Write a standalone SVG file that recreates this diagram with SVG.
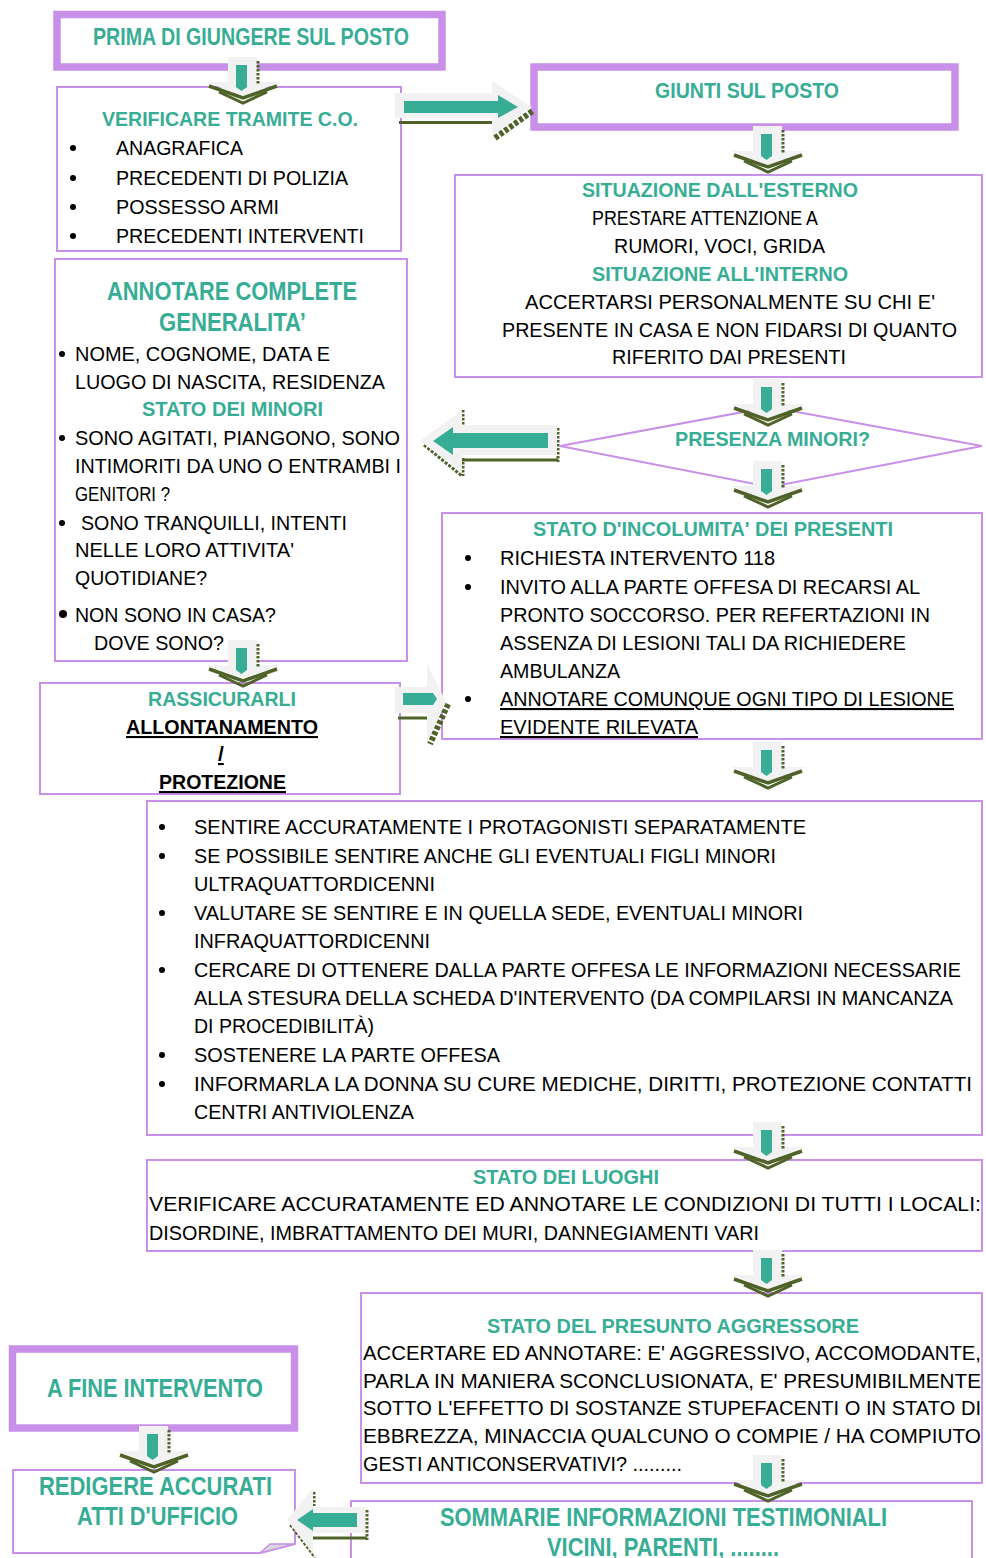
<svg xmlns="http://www.w3.org/2000/svg" xmlns:xlink="http://www.w3.org/1999/xlink" width="986" height="1558" viewBox="0 0 986 1558">
<style>
.t{font-family:"Liberation Sans",Arial,sans-serif;font-size:21px;fill:#000}
.h{font-family:"Liberation Sans",Arial,sans-serif;font-size:21px;font-weight:bold;fill:#38AD95}
.b{font-weight:bold}
.u{text-decoration:underline}
.box{fill:#fff;stroke:#C890E8;stroke-width:2}
.thick{fill:#fff;stroke:#C890E8;stroke-width:7.5}
.gray{fill:#F2F2F2}
.teal{fill:#38AD95}
.ol{stroke:#4F6228;fill:none}
.dot{fill:#000}
</style>
<defs>
<g id="down">
<rect class="gray" x="-15" y="0" width="29" height="27"/>
<polygon class="gray" points="-37,25 38,25 0,39"/>
<polyline class="ol" stroke-width="3.5" points="-34,29 0,41 34,29"/>
<polyline class="ol" stroke-width="3" points="-24,35 0,46 24,35"/>
<path class="teal" d="M-7,8 h11 v22 l-5.5,4 l-5.5,-4 z"/>
<line class="ol" x1="15" y1="4" x2="15" y2="27" stroke-width="3" stroke-dasharray="2.5 1.5"/>
</g>
</defs>

<g id="prima">
<rect class="thick" x="57" y="14.5" width="385" height="52.5"/>
<text class="h" x="93" y="45" style="font-size:23px" textLength="316" lengthAdjust="spacingAndGlyphs">PRIMA DI GIUNGERE SUL POSTO</text>
</g>

<g id="verificare">
<rect class="box" x="57" y="87" width="344" height="164"/>
<text class="h" x="102" y="126" textLength="256" lengthAdjust="spacingAndGlyphs">VERIFICARE TRAMITE C.O.</text>
<circle class="dot" cx="73" cy="148" r="3"/>
<circle class="dot" cx="73" cy="178" r="3"/>
<circle class="dot" cx="73" cy="207" r="3"/>
<circle class="dot" cx="73" cy="236" r="3"/>
<text class="t" x="116" y="155" textLength="127" lengthAdjust="spacingAndGlyphs">ANAGRAFICA</text>
<text class="t" x="116" y="185" textLength="232" lengthAdjust="spacingAndGlyphs">PRECEDENTI DI POLIZIA</text>
<text class="t" x="116" y="214" textLength="163" lengthAdjust="spacingAndGlyphs">POSSESSO ARMI</text>
<text class="t" x="116" y="243" textLength="248" lengthAdjust="spacingAndGlyphs">PRECEDENTI INTERVENTI</text>
</g>

<g id="giunti">
<rect class="thick" x="534" y="67" width="421" height="60"/>
<text class="h" x="655" y="98" style="font-size:22px" textLength="184" lengthAdjust="spacingAndGlyphs">GIUNTI SUL POSTO</text>
</g>

<g id="situazione">
<rect class="box" x="455" y="175" width="527" height="202"/>
<text class="h" x="582" y="197" textLength="276" lengthAdjust="spacingAndGlyphs">SITUAZIONE DALL'ESTERNO</text>
<text class="t" x="592" y="225" textLength="226" lengthAdjust="spacingAndGlyphs">PRESTARE ATTENZIONE A</text>
<text class="t" x="614" y="253" textLength="211" lengthAdjust="spacingAndGlyphs">RUMORI, VOCI, GRIDA</text>
<text class="h" x="592" y="281" textLength="256" lengthAdjust="spacingAndGlyphs">SITUAZIONE ALL'INTERNO</text>
<text class="t" x="525" y="309" textLength="410" lengthAdjust="spacingAndGlyphs">ACCERTARSI  PERSONALMENTE SU CHI E'</text>
<text class="t" x="502" y="337" textLength="455" lengthAdjust="spacingAndGlyphs">PRESENTE IN CASA E NON FIDARSI DI QUANTO</text>
<text class="t" x="612" y="364" textLength="234" lengthAdjust="spacingAndGlyphs">RIFERITO DAI PRESENTI</text>
</g>

<g id="presenza">
<polygon points="560,446 770,407 982,446 770,487" fill="#fff" stroke="#C890E8" stroke-width="2"/>
<text class="h" x="675" y="446" textLength="195" lengthAdjust="spacingAndGlyphs">PRESENZA MINORI?</text>
</g>

<g id="annotare">
<rect class="box" x="55" y="259" width="352" height="402"/>
<text class="h" x="107" y="300" style="font-size:25px" textLength="250" lengthAdjust="spacingAndGlyphs">ANNOTARE COMPLETE</text>
<text class="h" x="159" y="331" style="font-size:25px" textLength="147" lengthAdjust="spacingAndGlyphs">GENERALITA’</text>
<circle class="dot" cx="62" cy="354" r="3"/>
<text class="t" x="75" y="361" textLength="255" lengthAdjust="spacingAndGlyphs">NOME, COGNOME, DATA E</text>
<text class="t" x="75" y="389" textLength="310" lengthAdjust="spacingAndGlyphs">LUOGO DI NASCITA, RESIDENZA</text>
<text class="h" x="142" y="416" textLength="181" lengthAdjust="spacingAndGlyphs">STATO DEI MINORI</text>
<circle class="dot" cx="62" cy="438" r="3"/>
<text class="t" x="75" y="445" textLength="325" lengthAdjust="spacingAndGlyphs">SONO AGITATI, PIANGONO, SONO</text>
<text class="t" x="75" y="473" textLength="326" lengthAdjust="spacingAndGlyphs">INTIMORITI DA UNO O ENTRAMBI I</text>
<text class="t" x="75" y="501" textLength="95" lengthAdjust="spacingAndGlyphs">GENITORI ?</text>
<circle class="dot" cx="62" cy="523" r="3"/>
<text class="t" x="81" y="530" textLength="266" lengthAdjust="spacingAndGlyphs">SONO TRANQUILLI, INTENTI</text>
<text class="t" x="75" y="557" textLength="219" lengthAdjust="spacingAndGlyphs">NELLE LORO ATTIVITA'</text>
<text class="t" x="75" y="585" textLength="132" lengthAdjust="spacingAndGlyphs">QUOTIDIANE?</text>
<circle class="dot" cx="63" cy="614" r="4"/>
<text class="t" x="75" y="622" textLength="201" lengthAdjust="spacingAndGlyphs">NON SONO IN CASA?</text>
<text class="t" x="94" y="650" textLength="130" lengthAdjust="spacingAndGlyphs">DOVE SONO?</text>
</g>

<g id="incolumita">
<rect class="box" x="442" y="513" width="540" height="226"/>
<text class="h" x="533" y="536" textLength="360" lengthAdjust="spacingAndGlyphs">STATO D'INCOLUMITA' DEI PRESENTI</text>
<circle class="dot" cx="468" cy="558" r="3"/>
<circle class="dot" cx="468" cy="587" r="3"/>
<circle class="dot" cx="468" cy="699" r="3"/>
<text class="t" x="500" y="565" textLength="275" lengthAdjust="spacingAndGlyphs">RICHIESTA INTERVENTO 118</text>
<text class="t" x="500" y="594" textLength="420" lengthAdjust="spacingAndGlyphs">INVITO ALLA PARTE OFFESA DI RECARSI AL</text>
<text class="t" x="500" y="622" textLength="430" lengthAdjust="spacingAndGlyphs">PRONTO SOCCORSO. PER REFERTAZIONI IN</text>
<text class="t" x="500" y="650" textLength="406" lengthAdjust="spacingAndGlyphs">ASSENZA DI LESIONI TALI DA RICHIEDERE</text>
<text class="t" x="500" y="678" textLength="120" lengthAdjust="spacingAndGlyphs">AMBULANZA</text>
<text class="t u" x="500" y="706" textLength="454" lengthAdjust="spacingAndGlyphs">ANNOTARE COMUNQUE OGNI TIPO DI LESIONE</text>
<text class="t u" x="500" y="734" textLength="198" lengthAdjust="spacingAndGlyphs">EVIDENTE RILEVATA</text>
</g>

<g id="rassicurarli">
<rect class="box" x="40" y="683" width="360" height="111"/>
<text class="h" x="148" y="706" textLength="148" lengthAdjust="spacingAndGlyphs">RASSICURARLI</text>
<text class="t b u" x="126" y="734" textLength="192" lengthAdjust="spacingAndGlyphs">ALLONTANAMENTO</text>
<text class="t b u" x="218" y="761">/</text>
<text class="t b u" x="159" y="789" textLength="127" lengthAdjust="spacingAndGlyphs">PROTEZIONE</text>
</g>

<g id="sentire">
<rect class="box" x="147" y="801" width="835" height="334"/>
<circle class="dot" cx="162" cy="827" r="3"/>
<circle class="dot" cx="162" cy="856" r="3"/>
<circle class="dot" cx="162" cy="913" r="3"/>
<circle class="dot" cx="162" cy="970" r="3"/>
<circle class="dot" cx="162" cy="1055" r="3"/>
<circle class="dot" cx="162" cy="1084" r="3"/>
<text class="t" x="194" y="834" textLength="612" lengthAdjust="spacingAndGlyphs">SENTIRE ACCURATAMENTE I PROTAGONISTI SEPARATAMENTE</text>
<text class="t" x="194" y="863" textLength="582" lengthAdjust="spacingAndGlyphs">SE POSSIBILE SENTIRE ANCHE GLI EVENTUALI FIGLI MINORI</text>
<text class="t" x="194" y="891" textLength="241" lengthAdjust="spacingAndGlyphs">ULTRAQUATTORDICENNI</text>
<text class="t" x="194" y="920" textLength="609" lengthAdjust="spacingAndGlyphs">VALUTARE SE SENTIRE E IN QUELLA SEDE, EVENTUALI MINORI</text>
<text class="t" x="194" y="948" textLength="236" lengthAdjust="spacingAndGlyphs">INFRAQUATTORDICENNI</text>
<text class="t" x="194" y="977" textLength="767" lengthAdjust="spacingAndGlyphs">CERCARE DI OTTENERE DALLA PARTE OFFESA LE INFORMAZIONI NECESSARIE</text>
<text class="t" x="194" y="1005" textLength="759" lengthAdjust="spacingAndGlyphs">ALLA STESURA DELLA SCHEDA D'INTERVENTO (DA COMPILARSI IN MANCANZA</text>
<text class="t" x="194" y="1033" textLength="180" lengthAdjust="spacingAndGlyphs">DI PROCEDIBILITÀ)</text>
<text class="t" x="194" y="1062" textLength="306" lengthAdjust="spacingAndGlyphs">SOSTENERE LA PARTE OFFESA</text>
<text class="t" x="194" y="1091" textLength="778" lengthAdjust="spacingAndGlyphs">INFORMARLA LA DONNA SU CURE MEDICHE, DIRITTI, PROTEZIONE CONTATTI</text>
<text class="t" x="194" y="1119" textLength="220" lengthAdjust="spacingAndGlyphs">CENTRI ANTIVIOLENZA</text>
</g>

<g id="luoghi">
<rect class="box" x="147" y="1160" width="835" height="91"/>
<text class="h" x="473" y="1184" textLength="186" lengthAdjust="spacingAndGlyphs">STATO DEI LUOGHI</text>
<text class="t" x="149" y="1211" textLength="832" lengthAdjust="spacingAndGlyphs">VERIFICARE  ACCURATAMENTE  ED  ANNOTARE  LE  CONDIZIONI  DI  TUTTI  I  LOCALI:</text>
<text class="t" x="149" y="1240" textLength="610" lengthAdjust="spacingAndGlyphs">DISORDINE, IMBRATTAMENTO DEI MURI, DANNEGIAMENTI VARI</text>
</g>

<g id="aggressore">
<rect class="box" x="361" y="1293" width="621" height="190"/>
<text class="h" x="487" y="1333" textLength="372" lengthAdjust="spacingAndGlyphs">STATO DEL PRESUNTO AGGRESSORE</text>
<text class="t" x="363" y="1360" textLength="618" lengthAdjust="spacingAndGlyphs">ACCERTARE ED ANNOTARE: E' AGGRESSIVO, ACCOMODANTE,</text>
<text class="t" x="363" y="1388" textLength="618" lengthAdjust="spacingAndGlyphs">PARLA IN MANIERA SCONCLUSIONATA, E' PRESUMIBILMENTE</text>
<text class="t" x="363" y="1415" textLength="618" lengthAdjust="spacingAndGlyphs">SOTTO L'EFFETTO DI SOSTANZE STUPEFACENTI O IN STATO DI</text>
<text class="t" x="363" y="1443" textLength="618" lengthAdjust="spacingAndGlyphs">EBBREZZA, MINACCIA QUALCUNO O COMPIE / HA COMPIUTO</text>
<text class="t" x="363" y="1471" textLength="319" lengthAdjust="spacingAndGlyphs">GESTI ANTICONSERVATIVI? .........</text>
</g>

<g id="sommarie">
<rect class="box" x="351" y="1501" width="621" height="70"/>
<text class="h" x="440" y="1526" style="font-size:25px" textLength="447" lengthAdjust="spacingAndGlyphs">SOMMARIE INFORMAZIONI TESTIMONIALI</text>
<text class="h" x="547" y="1556" style="font-size:25px" textLength="232" lengthAdjust="spacingAndGlyphs">VICINI, PARENTI, ........</text>
</g>

<g id="fine">
<rect class="thick" x="12.5" y="1349" width="282" height="79"/>
<text class="h" x="47" y="1397" style="font-size:26px" textLength="216" lengthAdjust="spacingAndGlyphs">A FINE INTERVENTO</text>
</g>

<g id="redigere">
<path d="M13,1470 H295 V1544 L260,1553 H13 Z" fill="#fff" stroke="#C890E8" stroke-width="2"/>
<polygon points="260,1553 295,1544 270,1544" fill="#D9D9D9" stroke="#C890E8" stroke-width="1.5"/>
<text class="h" x="39" y="1495" style="font-size:26px" textLength="233" lengthAdjust="spacingAndGlyphs">REDIGERE ACCURATI</text>
<text class="h" x="77" y="1525" style="font-size:26px" textLength="161" lengthAdjust="spacingAndGlyphs">ATTI D'UFFICIO</text>
</g>

<g id="connectors">
<use xlink:href="#down" href="#down" transform="translate(243,57)"/>
<use xlink:href="#down" href="#down" transform="translate(768,126)"/>
<use xlink:href="#down" href="#down" transform="translate(768,379)"/>
<use xlink:href="#down" href="#down" transform="translate(768,461)"/>
<use xlink:href="#down" href="#down" transform="translate(243,640)"/>
<use xlink:href="#down" href="#down" transform="translate(768,742)"/>
<use xlink:href="#down" href="#down" transform="translate(768,1122)"/>
<use xlink:href="#down" href="#down" transform="translate(768,1250)"/>
<use xlink:href="#down" href="#down" transform="translate(768,1455)"/>
<use xlink:href="#down" href="#down" transform="translate(154,1426)"/>

<g id="arrow-right-1">
<rect x="399" y="121" width="93" height="3" fill="#4F6228"/>
<line class="ol" x1="495" y1="138" x2="534" y2="110" stroke-width="6" stroke-dasharray="4 2"/>
<polygon class="gray" points="395,93 492,93 492,81 532,107 492,135 492,118 395,118"/>
<polygon class="teal" points="404,101 498,101 498,95 518,107 498,118 498,113 404,113"/>
</g>

<g id="arrow-left-1">
<line class="ol" x1="558" y1="428" x2="558" y2="462" stroke-width="3" stroke-dasharray="2.5 1.5"/>
<line class="ol" x1="462" y1="460" x2="558" y2="460" stroke-width="3"/>
<line class="ol" x1="463" y1="410" x2="463" y2="425" stroke-width="3" stroke-dasharray="2.5 1.5"/>
<line class="ol" x1="463" y1="458" x2="463" y2="476" stroke-width="3" stroke-dasharray="2.5 1.5"/>
<line class="ol" x1="424" y1="445" x2="462" y2="476" stroke-width="3" stroke-dasharray="3 1.5"/>
<polygon class="gray" points="420,441 462,410 462,425 557,425 557,455 462,455 462,472"/>
<polygon class="teal" points="433,441 453,427 453,433 548,433 548,448 453,448 453,455"/>
</g>

<g id="arrow-right-2">
<line class="ol" x1="398" y1="718" x2="427" y2="718" stroke-width="3"/>
<line class="ol" x1="448" y1="704" x2="430" y2="744" stroke-width="6" stroke-dasharray="4 2"/>
<polygon class="gray" points="395,687 427,687 427,663 446,702 427,742 427,713 395,713"/>
<path class="teal" d="M403,693 H433 L437,699 L433,705 H403 Z"/>
</g>

<g id="arrow-left-2">
<line class="ol" x1="367" y1="1510" x2="367" y2="1540" stroke-width="3" stroke-dasharray="2.5 1.5"/>
<line class="ol" x1="313" y1="1538" x2="367" y2="1538" stroke-width="3"/>
<line class="ol" x1="314" y1="1492" x2="314" y2="1506" stroke-width="3" stroke-dasharray="2.5 1.5"/>
<line class="ol" x1="290" y1="1525" x2="315" y2="1558" stroke-width="2" stroke-dasharray="3 1.5"/>
<polygon class="gray" points="287,1520 313,1488 313,1507 365,1507 365,1533 313,1533 313,1553"/>
<polygon class="teal" points="297,1520 313,1509 313,1513 357,1513 357,1527 313,1527 313,1531"/>
</g>
</g>
</svg>
